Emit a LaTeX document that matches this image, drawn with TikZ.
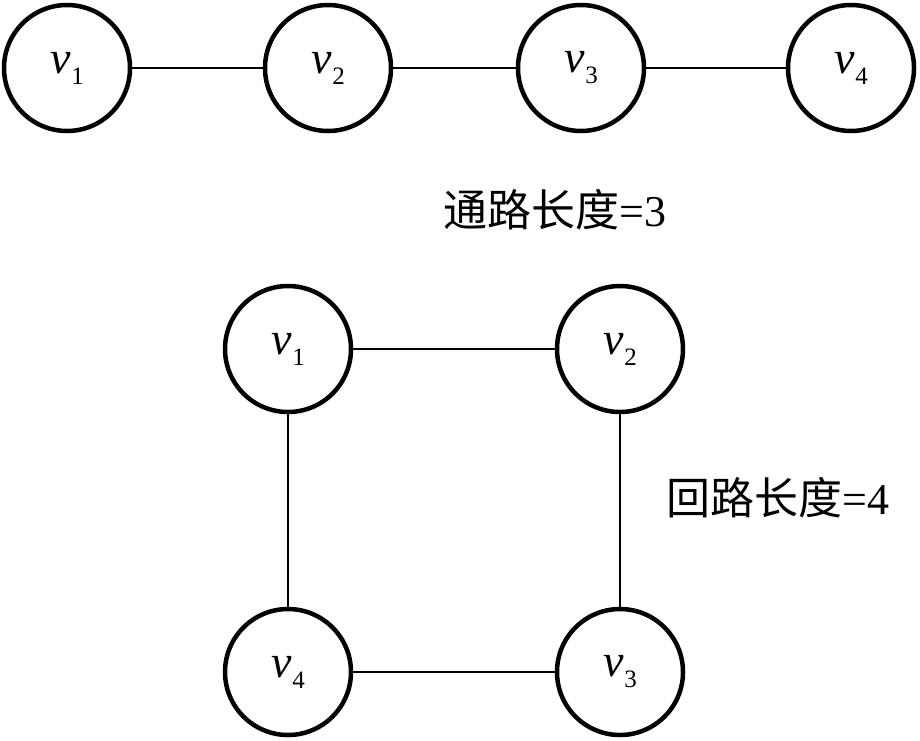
\documentclass[tikz,border=0pt]{standalone}
\usepackage{fontspec}
\setmainfont{Liberation Serif}
\newfontfamily\cjk{Noto Sans CJK SC}
\newcommand{\vlab}[1]{{\itshape v}\kern1pt\raisebox{-11pt}{\fontsize{25}{25}\selectfont #1}}
\begin{document}
\begin{tikzpicture}[x=1pt,y=-1pt,
  vertex/.style={circle,draw=black,line width=4.5pt,minimum size=126pt,inner sep=0pt,font=\rmfamily\fontsize{46}{46}\selectfont},
  edge/.style={line width=2.5pt},
  lbl/.style={font=\rmfamily\fontsize{44}{44}\selectfont,inner sep=0pt}]
\useasboundingbox (0,0) rectangle (920,740);
\node[vertex] (a1) at (67,68) {\vlab{1}};
\node[vertex] (a2) at (328,68) {\vlab{2}};
\node[vertex] (a3) at (581,68) {\vlab{3}};
\node[vertex] (a4) at (851,68) {\vlab{4}};
\draw[edge] (a1) -- (a2);
\draw[edge] (a2) -- (a3);
\draw[edge] (a3) -- (a4);
\node[lbl] (t1) at (555,210) {{\cjk 通路长度}\rmfamily =3};
\node[vertex] (b1) at (288,349) {\vlab{1}};
\node[vertex] (b2) at (620,349) {\vlab{2}};
\node[vertex] (b3) at (620,672) {\vlab{3}};
\node[vertex] (b4) at (288,672) {\vlab{4}};
\draw[edge] (b1) -- (b2);
\draw[edge] (b2) -- (b3);
\draw[edge] (b3) -- (b4);
\draw[edge] (b4) -- (b1);
\node[lbl] (t2) at (778,498) {{\cjk 回路长度}\rmfamily =4};
\end{tikzpicture}
\end{document}
